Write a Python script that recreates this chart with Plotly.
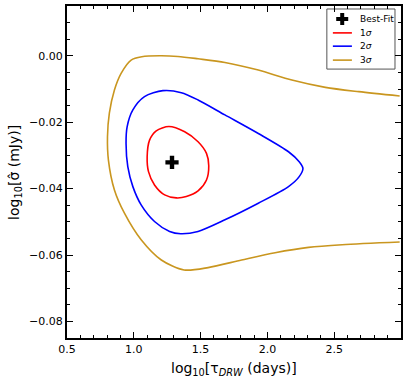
import plotly.graph_objects as go

# best-fit point
best_x = [1.286]
best_y = [-0.0321]

# 1 sigma contour (closed)
s1_x = [1.263, 1.381, 1.481, 1.544, 1.561, 1.544, 1.481, 1.393, 1.318, 1.231, 1.155, 1.110, 1.100, 1.118, 1.168, 1.263]
s1_y = [-0.0213, -0.0229, -0.0259, -0.0294, -0.0331, -0.0374, -0.0407, -0.0424, -0.0428, -0.0419, -0.0389, -0.0349, -0.0304, -0.0254, -0.0226, -0.0213]

# 2 sigma contour (closed)
s2_x = [1.218, 1.080, 0.993, 0.950, 0.942, 0.955, 0.993, 1.055, 1.155, 1.268, 1.351, 1.481, 1.682, 1.932, 2.158, 2.238, 2.266,
        2.238, 2.158, 1.932, 1.682, 1.481, 1.356, 1.218]
s2_y = [-0.0105, -0.0123, -0.0163, -0.0214, -0.0264, -0.0334, -0.0394, -0.0449, -0.0499, -0.0529, -0.0536, -0.0529, -0.0494,
        -0.0444, -0.0394, -0.0364, -0.0339, -0.0319, -0.0289, -0.0234, -0.0178, -0.0133, -0.0111, -0.0105]

# 3 sigma contour (open to the right)
s3_x = [2.99, 2.684, 2.434, 2.183, 1.932, 1.682, 1.481, 1.330, 1.193, 1.060, 0.980, 0.905, 0.855, 0.817, 0.803, 0.810,
        0.855, 0.930, 1.055, 1.206, 1.376, 1.556, 1.807, 2.058, 2.308, 2.559, 2.99]
s3_y = [-0.0121, -0.0108, -0.0095, -0.0073, -0.0043, -0.0020, -0.0009, -0.0002, 0.0000, -0.0003, -0.0013, -0.0053, -0.0103,
        -0.0173, -0.0244, -0.0314, -0.0404, -0.0474, -0.0554, -0.0615, -0.0645, -0.0638, -0.0615, -0.0593, -0.0577,
        -0.0569, -0.0561]

legend_labels = ["Best-Fit", "1<i>σ</i>", "2<i>σ</i>", "3<i>σ</i>"]
colors = ["black", "#ff0000", "#0000ff", "#c9961f"]

font = "DejaVu Sans"

fig = go.Figure()
for xs, ys, lab, col in [(s1_x, s1_y, legend_labels[1], colors[1]),
                         (s2_x, s2_y, legend_labels[2], colors[2]),
                         (s3_x, s3_y, legend_labels[3], colors[3])]:
    fig.add_trace(go.Scatter(x=xs, y=ys, mode="lines", name=lab,
                             line=dict(color=col, width=1.6, shape="spline", smoothing=0.8)))
fig.add_trace(go.Scatter(x=best_x, y=best_y, mode="markers", name=legend_labels[0],
                         marker=dict(symbol="cross", size=11, color=colors[0])))

axis_common = dict(showline=True, linecolor="black", linewidth=2, mirror="allticks",
                   ticks="inside", ticklen=6, tickwidth=1, tickcolor="black",
                   showgrid=False, zeroline=False, automargin=False,
                   tickfont=dict(family=font, size=11, color="black"))

fig.update_xaxes(range=[0.5, 3.0], tickvals=[0.5, 1.0, 1.5, 2.0, 2.5],
                 ticktext=["0.5", "1.0", "1.5", "2.0", "2.5"],
                 minor=dict(dtick=0.1, tick0=0.5, ticks="inside", ticklen=3, tickcolor="black"),
                 **axis_common)
fig.update_yaxes(range=[-0.085, 0.015], tickvals=[0.0, -0.02, -0.04, -0.06, -0.08],
                 ticktext=["0.00", "\u22120.02", "\u22120.04", "\u22120.06", "\u22120.08"],
                 minor=dict(dtick=0.005, tick0=0, ticks="inside", ticklen=3, tickcolor="black"),
                 **axis_common)

fig.add_annotation(text="log<sub>10</sub>[τ<sub><i>DRW</i></sub> (days)]", xref="paper", yref="paper",
                   x=0.5, y=-0.06, xanchor="center", yanchor="top", showarrow=False,
                   font=dict(family=font, size=14, color="black"))
fig.add_annotation(text="log<sub>10</sub>[σ\u0302 (mJy)]", xref="paper", yref="paper",
                   x=-0.156, y=0.5, xanchor="center", yanchor="middle", showarrow=False, textangle=-90,
                   font=dict(family=font, size=14, color="black"))

# compact matplotlib-style legend box (plotly's own legend rows are too tall)
box_x0, box_x1, box_y0, box_y1 = 0.778, 0.982, 0.810, 0.991
row_y = [0.961, 0.919, 0.879, 0.837]
fig.add_shape(type="rect", xref="paper", yref="paper", x0=box_x0, x1=box_x1, y0=box_y0, y1=box_y1,
              line=dict(color="#555555", width=1), fillcolor="white", layer="below")
for i, (lab, col) in enumerate(zip(legend_labels, colors)):
    if i > 0:
        fig.add_shape(type="line", xref="paper", yref="paper", x0=0.796, x1=0.853, y0=row_y[i], y1=row_y[i],
                      line=dict(color=col, width=1.6), layer="below")
    fig.add_annotation(text=lab, xref="paper", yref="paper", x=0.872, y=row_y[i],
                       xanchor="left", yanchor="middle", showarrow=False,
                       font=dict(family=font, size=9, color="black"))
# legend marker on a hidden overlay axis spanning the plot area
fig.add_trace(go.Scatter(x=[0.824], y=[row_y[0]], mode="markers", xaxis="x2", yaxis="y2",
                         marker=dict(symbol="cross", size=10, color="black"), hoverinfo="skip"))
fig.update_layout(
    xaxis2=dict(overlaying="x", range=[0, 1], visible=False),
    yaxis2=dict(overlaying="y", range=[0, 1], visible=False),
)

fig.update_layout(
    width=407, height=378,
    margin=dict(l=67, r=6, t=6, b=40),
    paper_bgcolor="white", plot_bgcolor="white",
    showlegend=False,
)

# drop the default page margin so the figure sits at the window's corner
fig.write_html("out.html", config={"displayModeBar": False},
               post_script="document.body.style.margin='0';")
